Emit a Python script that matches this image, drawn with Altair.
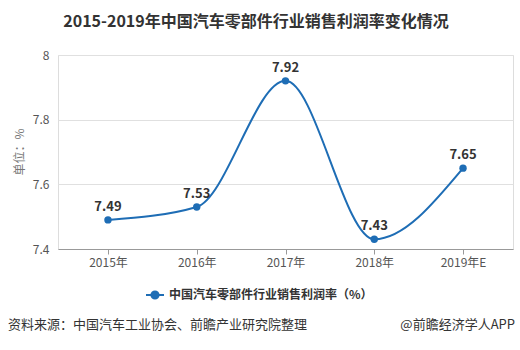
import altair as alt
import pandas as pd

years = ["2015年", "2016年", "2017年", "2018年", "2019年E"]
values = [7.49, 7.53, 7.92, 7.43, 7.65]
series = "中国汽车零部件行业销售利润率（%）"
title_text = "2015-2019年中国汽车零部件行业销售利润率变化情况"
unit_text = "单位：%"
source_text = "资料来源：中国汽车工业协会、前瞻产业研究院整理"
brand_text = "@前瞻经济学人APP"
y_ticks = [7.4, 7.6, 7.8, 8.0]

FONT = "Noto Sans CJK SC"
BLUE = "#1e6db5"

df = pd.DataFrame({"year": years, "value": values, "series": [series] * len(years)})

x_enc = alt.X("year:N", sort=years, title=None,
              scale=alt.Scale(type="point", padding=0.563),
              axis=alt.Axis(labelAngle=0, labelFontSize=12, labelColor="#555",
                            labelFont=FONT, tickColor="#999", domainColor="#999",
                            tickSize=5, labelPadding=3, grid=False))
y_enc = alt.Y("value:Q", title=None,
              scale=alt.Scale(domain=[7.4, 8.0], nice=False, zero=False),
              axis=alt.Axis(values=y_ticks, format=".1~f", labelFontSize=12,
                            labelColor="#555", labelFont=FONT, domain=False,
                            ticks=False, labelPadding=9, gridColor="#e0e0e0"))

base = alt.Chart(df)

line = base.mark_line(interpolate="monotone", strokeWidth=2).encode(
    x=x_enc, y=y_enc,
    color=alt.Color("series:N", scale=alt.Scale(range=[BLUE]),
                    legend=alt.Legend(title=None, orient="none", legendX=87, legendY=230,
                                      symbolType="M-1,0H1M-0.4,0A0.4,0.4 0 1,0 0.4,0A0.4,0.4 0 1,0 -0.4,0",
                                      symbolSize=324, symbolStrokeWidth=2,
                                      symbolFillColor=BLUE, symbolStrokeColor=BLUE,
                                      labelFont=FONT, labelFontSize=12, labelFontWeight="bold",
                                      labelColor="#333", labelOffset=4, labelLimit=0)),
)

points = base.mark_point(filled=True, size=55, opacity=1, color=BLUE).encode(
    x=alt.X("year:N", sort=years), y="value:Q"
)

labels = base.mark_text(fontSize=13, fontWeight="bold", color="#333", font=FONT,
                        baseline="middle", dy=-13).encode(
    x=alt.X("year:N", sort=years), y="value:Q", text=alt.Text("value:Q", format=".2f")
)

def txt(s, x, y, **kw):
    return alt.Chart(pd.DataFrame({"t": [s]})).mark_text(font=FONT, **kw).encode(
        text="t:N", x=alt.value(x), y=alt.value(y))

title = txt(title_text, 198, -33, fontSize=16, fontWeight="bold", color="#333",
            align="center", baseline="middle")
unit = txt(unit_text, -38, 97, fontSize=12, color="#777", angle=270,
           align="center", baseline="middle")
source = txt(source_text, -50, 270, fontSize=13, color="#333", align="left",
             baseline="middle")
brand = txt(brand_text, 457, 270, fontSize=13, color="#333", align="right",
            baseline="middle")

chart = alt.layer(line, points, labels, title, unit, source, brand).properties(
    width=455, height=194,
    autosize=alt.AutoSizeParams(type="none"),
    padding={"left": 58, "top": 55, "right": 7, "bottom": 101},
    background="white",
).configure_view(stroke=None).configure(font=FONT)

chart.save("out.html", embed_options={"renderer": "svg", "actions": False})
